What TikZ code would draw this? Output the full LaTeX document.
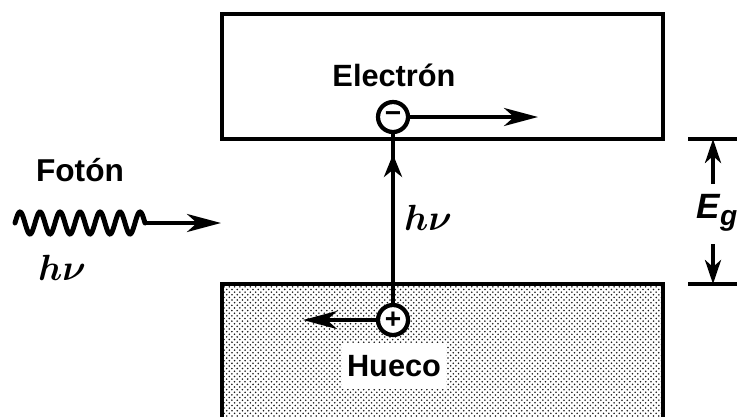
\documentclass[tikz,border=0pt]{standalone}
\usepackage{fontspec}
\setmainfont{Liberation Sans}
\usetikzlibrary{arrows.meta,decorations.markings,patterns}
\definecolor{DotGray}{HTML}{1A1A1A}

\begin{document}
\begin{tikzpicture}[x=0.02cm,y=-0.02cm,
  band/.style={line width=2.8pt},
  carrier/.style={circle,draw,line width=2.4pt,fill=white,minimum size=0.6cm,inner sep=0pt,font=\fontsize{16}{16}\selectfont\bfseries},
  lbl/.style={font=\fontsize{17.5}{20}\selectfont\bfseries},
  mathlbl/.style={font=\fontsize{21}{22}\selectfont\boldmath},
  flow/.style={line width=2.2pt,-{Stealth[length=0.68cm,width=0.36cm,inset=0.2cm]}},
  gap/.style={line width=2.2pt,-{Stealth[length=0.48cm,width=0.32cm,inset=0.14cm]}}]
  \useasboundingbox (0,0) rectangle (737,416);
  \fill[pattern=crosshatch dots,pattern color=DotGray] (222,284) rectangle (663,430);
  \draw[band] (222,14) rectangle (663,139);
  \draw[band] (222,430) -- (222,284) -- (663,284) -- (663,430);
  \draw[band] (688,139) -- (750,139) (688,284) -- (750,284);
  \node[carrier] (elec) at (393,117) {\symbol{"2212}};
  \node[carrier] (hole) at (393,320) {+};
  \node[lbl] (elecLbl) at (394,75) {Electrón};
  \node[lbl,fill=white,inner xsep=3pt,inner ysep=7pt] (holeLbl) at (394,366) {Hueco};
  \node[mathlbl] (excLbl) at (428,218) {$h\nu$};
  \node[lbl,font=\fontsize{18}{20}\selectfont\bfseries] (photLbl) at (80,170) {Fotón};
  \node[mathlbl] (photNu) at (62,268) {$h\nu$};
  \node[font=\fontsize{20}{20}\selectfont\bfseries\itshape] (gapLbl) at (717,213) {E\raisebox{-0.35ex}{\fontsize{16}{16}\selectfont g}};
  \coordinate (elecEnd) at (538,117);
  \coordinate (holeEnd) at (303,320);
  \coordinate (photTip) at (221,223);
  \coordinate (gapTop) at (713,139);
  \coordinate (gapBot) at (713,284);
  \coordinate (gapUp) at (713,184);
  \coordinate (gapDn) at (713,244);
  \draw[line width=2.2pt,postaction={decorate},decoration={markings,mark=at position 0.88 with {\arrow{Stealth[length=0.45cm,width=0.36cm,inset=0.14cm]}}}] (hole) -- (elec);
  \draw[flow] (elec) -- (elecEnd);
  \draw[flow] (hole) -- (holeEnd);
  \draw[line width=2.8pt,line cap=round] plot[domain=0:2340,samples=160] ({15+\x/360*20},{223-11*sin(\x)}) coordinate (wavEnd);
  \draw[flow] (wavEnd) -- (photTip);
  \draw[gap] (gapUp) -- (gapTop);
  \draw[gap] (gapDn) -- (gapBot);
\end{tikzpicture}
\end{document}
